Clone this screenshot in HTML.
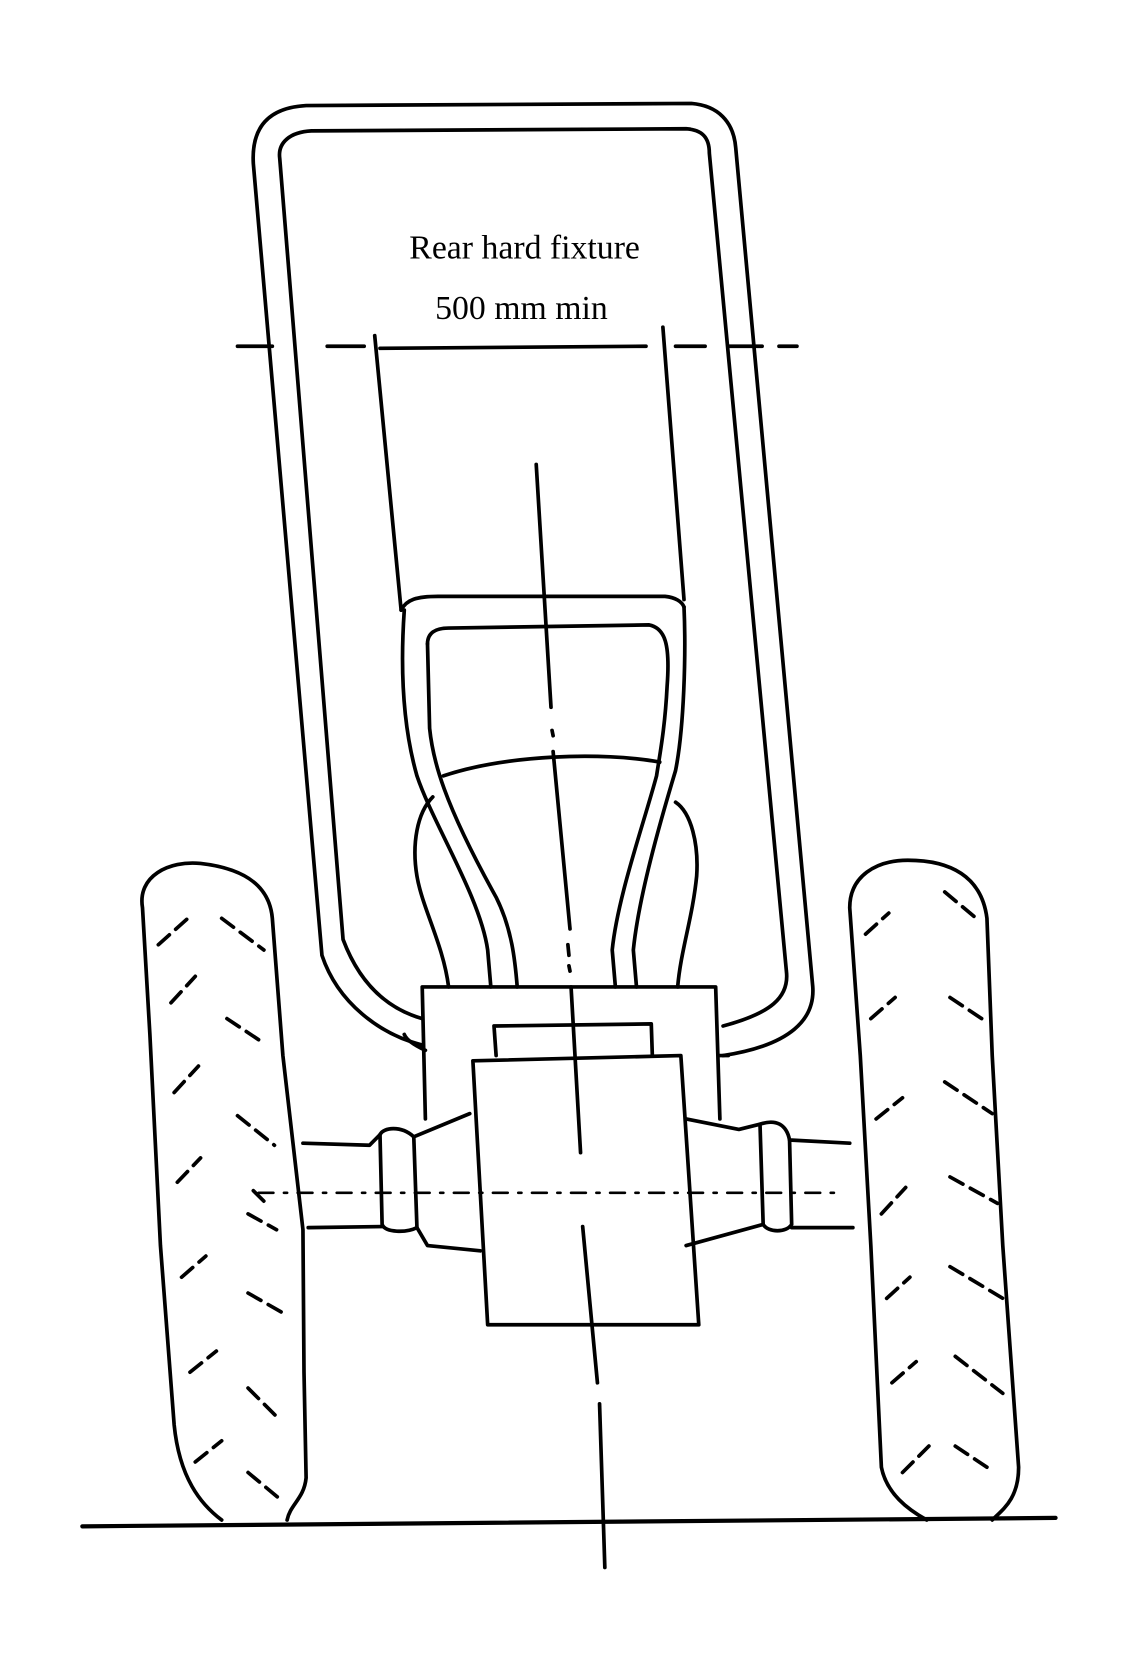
<!DOCTYPE html>
<html><head><style>html,body{margin:0;padding:0;background:#fff}svg{display:block}</style></head>
<body>
<svg width="1140" height="1653" viewBox="0 0 1080 1566" xmlns="http://www.w3.org/2000/svg">
<g fill="none" stroke="#000" stroke-width="3.5" stroke-linecap="round" stroke-linejoin="round">
<path d="M305,905 C320,950 360,980 400,990 M240,155 C238,120 255,102 290,100 L655,98 C680,100 695,115 697,140 L770,935 C772,965 750,990 685,1000 M240,155 L305,905"/>
<path d="M400,965 C365,955 340,930 325,890 L265,150 C263,135 275,125 295,124 L650,122 C665,123 672,130 672,145 L745,920 C748,945 730,960 685,972"/>
<path d="M225,328 L258,328 M310,328 L345,328 M640,328 L668,328 M690,328 L722,328 M738,328 L755,328"/>
<path d="M360,330 L612,328"/>
<path d="M355,318 L380,578"/>
<path d="M628,310 L648,568"/>
<path d="M508,440 L522,670 M523,692 L524,697 M524,712 L540,880 M538,895 L539,905 M539,915 L540,920 M541,935 L550,1092 M552,1162 L566,1310 M568,1330 L573,1485"/>
<path d="M380,578 C385,568 395,565 415,565 L630,565 C640,566 646,570 648,575"/>
<path d="M383,578 C378,650 385,700 395,735 C410,780 455,850 462,900 L465,935"/>
<path d="M405,610 C405,600 412,595 425,595 L615,592 C630,595 635,610 632,650 C630,690 625,715 622,735 C610,780 585,850 580,900 L583,935"/>
<path d="M405,610 L407,690 C410,720 420,760 470,850 C485,880 488,910 490,935"/>
<path d="M648,575 C650,620 648,690 640,730 C625,780 605,850 600,900 L603,935"/>
<path d="M420,735 C480,715 570,712 625,722"/>
<path d="M410,755 C395,770 390,800 395,830 C400,860 420,895 425,935"/>
<path d="M640,760 C655,770 662,800 660,830 C656,870 645,900 642,935"/>
<path d="M400,935 L678,935 L682,1060 M400,935 L403,1060 M403,995 C392,990 385,985 383,980 M682,1000 L690,1000"/>
<path d="M470,1000 L468,972 L617,970 L618,1000"/>
<path d="M448,1005 L645,1000 L662,1255 L462,1255 Z"/>
<path d="M287,1083 L350,1085 L360,1075 C363,1068 380,1066 392,1077 L445,1055"/>
<path d="M360,1075 L362,1160 C365,1168 385,1168 395,1163 L392,1077"/>
<path d="M292,1163 L362,1162 M395,1163 L405,1180 L455,1185"/>
<path d="M650,1060 L700,1070 L720,1065 C735,1060 745,1065 748,1080 L805,1083"/>
<path d="M720,1065 L723,1160 C728,1168 745,1168 750,1160 L748,1080"/>
<path d="M650,1180 L723,1160 M750,1163 L808,1163"/>
<path stroke-width="2.5" stroke-dasharray="14,10,3,10" d="M245,1130 L800,1130"/>
<path d="M135,860 C130,830 160,815 190,818 C225,822 255,835 258,870 L268,1000 L287,1165 L288,1300 L290,1400 C288,1420 275,1425 272,1440 M135,860 L142,980 L152,1180 L165,1350 C170,1400 190,1425 210,1440"/>
<path d="M805,860 C805,830 830,815 860,815 C900,815 930,830 935,870 L940,1000 L950,1180 L965,1390 C965,1420 950,1430 940,1440 M805,860 L815,1000 L825,1180 L835,1390 C840,1415 860,1430 878,1440"/>
<path stroke-width="4" d="M78,1446 L1000,1438"/>
</g>
<g stroke="#000" stroke-width="3.5" stroke-dasharray="14,8" stroke-linecap="round" fill="none">
<path d="M150,895 L178,870"/><path d="M210,870 L250,900"/>
<path d="M162,950 L185,925"/><path d="M215,965 L245,985"/>
<path d="M165,1035 L188,1010"/><path d="M225,1057 L260,1085"/>
<path d="M168,1120 L190,1097"/><path d="M240,1128 L250,1138 M235,1150 L262,1165"/>
<path d="M172,1210 L195,1190"/><path d="M235,1225 L270,1245"/>
<path d="M180,1300 L205,1280"/><path d="M235,1315 L265,1345"/>
<path d="M185,1385 L210,1365"/><path d="M235,1395 L265,1420"/>
<path d="M820,885 L842,865"/><path d="M895,845 L925,870"/>
<path d="M825,965 L848,945"/><path d="M900,945 L930,965"/>
<path d="M830,1060 L855,1040"/><path d="M895,1025 L940,1055"/>
<path d="M835,1150 L858,1125"/><path d="M900,1115 L945,1140"/>
<path d="M840,1230 L862,1210"/><path d="M900,1200 L950,1230"/>
<path d="M845,1310 L868,1290"/><path d="M905,1285 L950,1320"/>
<path d="M855,1395 L880,1370"/><path d="M905,1370 L935,1390"/>
</g>
<g font-family="'Liberation Serif', serif" font-size="32" text-anchor="middle" fill="#000">
<text x="497" y="245">Rear hard fixture</text>
<text x="494" y="302">500 mm min</text>
</g>
</svg>
</body></html>
